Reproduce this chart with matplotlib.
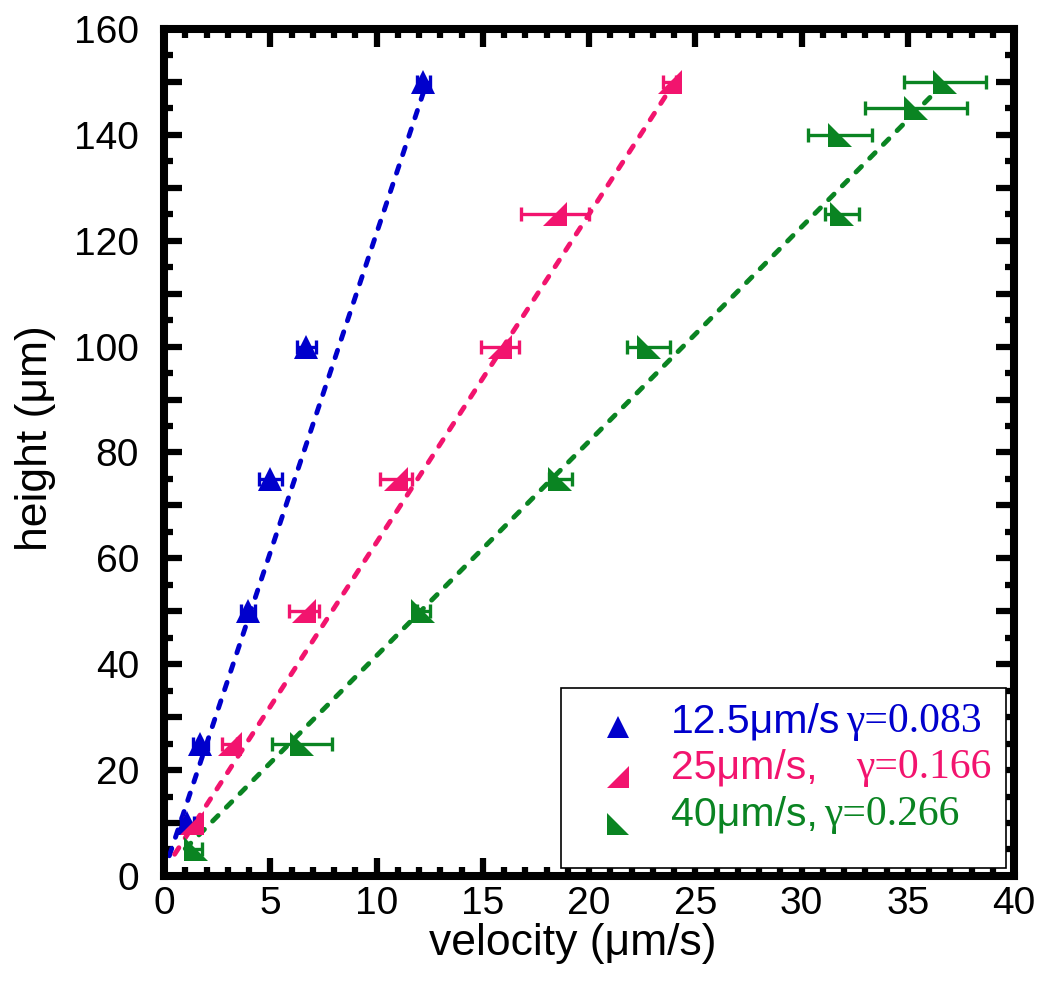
import matplotlib
matplotlib.use("Agg")
import matplotlib.pyplot as plt
import numpy as np
from matplotlib.path import Path
from matplotlib.patches import Rectangle
from matplotlib.ticker import MultipleLocator, FuncFormatter

plt.rcParams["font.family"] = ["Liberation Sans", "DejaVu Sans"]

# measured heights (um) and velocities (um/s) for the three driving speeds
height_slow = [10, 25, 50, 75, 100, 150]
vel_slow = [1.1, 1.7, 3.95, 5.0, 6.7, 12.2]
err_slow = [0.3, 0.35, 0.35, 0.55, 0.45, 0.3]

height_mid = [10, 25, 50, 75, 100, 125, 150]
vel_mid = [1.3, 3.1, 6.6, 10.9, 15.8, 18.4, 23.8]
err_mid = [0.3, 0.35, 0.7, 0.75, 0.9, 1.6, 0.3]

height_fast = [5, 25, 50, 75, 100, 125, 140, 145, 150]
vel_fast = [1.5, 6.5, 12.2, 18.65, 22.8, 31.9, 31.8, 35.4, 36.75]
err_fast = [0.3, 1.4, 0.3, 0.55, 1.0, 0.8, 1.5, 2.4, 1.95]

# linear fits h = a*v + b drawn over [v_start, v_end]
fit_slope = [12.06, 6.2, 4.05]
fit_intercept = [0.8, 1.0, 1.1]
fit_vrange = [(0.25, 12.2), (0.5, 23.9), (1.0, 36.1)]

speed_labels = ["12.5\u03bcm/s", "25\u03bcm/s,", "40\u03bcm/s,"]
gamma_labels = ["\u03b3=0.083", "\u03b3=0.166", "\u03b3=0.266"]

colors = ["#0000CC", "#F2146E", "#0A8422"]

tri_up = "^"
tri_pink = Path([(-1, -1), (1, -1), (1, 1), (-1, -1)],
                [Path.MOVETO, Path.LINETO, Path.LINETO, Path.CLOSEPOLY])
tri_green = Path([(-1, 1), (-1, -1), (1, -1), (-1, 1)],
                 [Path.MOVETO, Path.LINETO, Path.LINETO, Path.CLOSEPOLY])
markers = [tri_up, tri_pink, tri_green]

series = [
    (vel_slow, height_slow, err_slow),
    (vel_mid, height_mid, err_mid),
    (vel_fast, height_fast, err_fast),
]

fig = plt.figure(figsize=(10.38, 9.97), dpi=100)
ax = fig.add_axes([0.158, 0.1214, 0.8189, 0.8495])

for i, (v, h, e) in enumerate(series):
    v0, v1 = fit_vrange[i]
    vv = np.array([v0, v1])
    line, = ax.plot(vv, fit_slope[i] * vv + fit_intercept[i], color=colors[i],
                    lw=3.5, dash_capstyle="round", zorder=2)
    line.set_dashes((1.6, 2.4))
    ax.errorbar(v, h, xerr=e, fmt="none", ecolor=colors[i], elinewidth=2.4,
                capsize=5, capthick=2.4, zorder=3)
    ax.plot(v, h, linestyle="none", marker=markers[i], markersize=17,
            color=colors[i], markeredgewidth=0, zorder=4)

ax.set_xlim(0, 40)
ax.set_ylim(0, 160)
ax.xaxis.set_major_locator(MultipleLocator(5))
ax.xaxis.set_minor_locator(MultipleLocator(1))
ax.yaxis.set_major_locator(MultipleLocator(10))
ax.yaxis.set_minor_locator(MultipleLocator(5))
ax.yaxis.set_major_formatter(FuncFormatter(lambda y, _: f"{y:.0f}" if round(y) % 20 == 0 else ""))

for sp in ax.spines.values():
    sp.set_linewidth(5.8)
ax.tick_params(which="both", direction="in", top=True, right=True, color="black")
ax.tick_params(which="major", length=13, width=4.5, labelsize=28)
ax.tick_params(which="minor", length=6.5, width=4.5)
ax.tick_params(axis="x", which="major", pad=7)
ax.tick_params(axis="y", which="major", pad=18)

ax.set_xlabel("velocity (\u03bcm/s)", fontsize=32)
ax.set_ylabel("height (\u03bcm)", fontsize=32)
ax.xaxis.label.set_va("baseline")
ax.yaxis.label.set_va("baseline")
ax.xaxis.set_label_coords(0.481, -0.0935)
ax.yaxis.set_label_coords(-0.1376, 0.517)

# hand-built legend box with mixed sans / serif entries
ax.add_patch(Rectangle((0.467, 0.009), 0.524, 0.213, transform=ax.transAxes,
                       facecolor="white", edgecolor="black", lw=1.2, zorder=5))
row_marker_y = [0.176, 0.117, 0.0614]
row_text_y = [0.169, 0.1145, 0.059]
gamma_gap = [4.5, 28, 5]
for i in range(3):
    ax.plot([0.534], [row_marker_y[i]], transform=ax.transAxes, linestyle="none",
            marker=markers[i], markersize=16, color=colors[i], markeredgewidth=0,
            zorder=6, clip_on=False)
    t = ax.text(0.596, row_text_y[i], speed_labels[i], transform=ax.transAxes,
                fontsize=29.5, color=colors[i], va="baseline", ha="left", zorder=6)
    ax.annotate(gamma_labels[i], xy=(1, 0), xycoords=t,
                xytext=(gamma_gap[i], 0), textcoords="offset points",
                fontsize=30, family=["Liberation Serif", "DejaVu Serif"],
                color=colors[i], va="bottom", ha="left", zorder=6)

fig.savefig("out.png", dpi=100)
